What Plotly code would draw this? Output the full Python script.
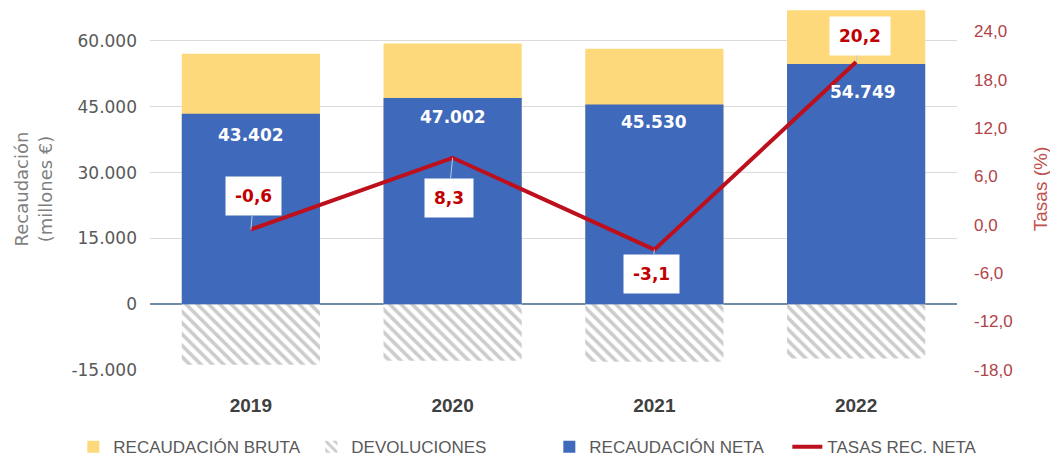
import plotly.graph_objects as go

years = ["2019", "2020", "2021", "2022"]
bruta = [57100, 59400, 58200, 67000]
neta = [43402, 47002, 45530, 54749]
devoluciones = [-13800, -12900, -13100, -12400]
tasas = [-0.6, 8.3, -3.1, 20.2]
tasa_labels = ["-0,6", "8,3", "-3,1", "20,2"]
neta_labels = ["43.402", "47.002", "45.530", "54.749"]
# label offsets (pixels)
label_ax = [3, -4, -3, 4]
label_ay = [-33, 40, 24, -26]
neta_yshift = [-21, -19, -18, -28]
neta_xshift = [0, 0, 0, 7]

left_ticks = [-15000, 0, 15000, 30000, 45000, 60000]
left_ticktext = ["-15.000", "0", "15.000", "30.000", "45.000", "60.000"]
right_ticks = [-18, -12, -6, 0, 6, 12, 18, 24]
right_ticktext = ["-18,0", "-12,0", "-6,0", "0,0", "6,0", "12,0", "18,0", "24,0"]

RED = "#C00000"
fig = go.Figure()
fig.add_trace(go.Bar(x=years, y=bruta, name="RECAUDACIÓN BRUTA",
                     marker=dict(color="#FDD97C", line=dict(width=0)), width=0.685))
fig.add_trace(go.Bar(x=years, y=devoluciones, name="DEVOLUCIONES",
                     marker=dict(color="white", line=dict(width=0),
                                 pattern=dict(shape="\\", fgcolor="#999999", bgcolor="white",
                                              size=8, solidity=0.45)), width=0.685))
fig.add_trace(go.Bar(x=years, y=neta, name="RECAUDACIÓN NETA",
                     marker=dict(color="#3F69BA", line=dict(width=0)), width=0.685))
fig.add_trace(go.Scatter(x=years, y=tasas, name="TASAS REC. NETA", yaxis="y2",
                         mode="lines", line=dict(color="#BE0F1C", width=4)))

for i in range(len(years)):
    fig.add_annotation(x=i, y=neta[i], xref="x", yref="y", text="<b>%s</b>" % neta_labels[i],
                       showarrow=False, yshift=neta_yshift[i], xshift=neta_xshift[i],
                       yanchor="middle",
                       font=dict(color="white", size=17, family="DejaVu Sans"))
for i in range(len(years)):
    fig.add_annotation(x=i, y=tasas[i], xref="x", yref="y2",
                       text="<b>%s</b>" % tasa_labels[i],
                       showarrow=True, arrowhead=0, arrowwidth=1, arrowcolor="#B7CBEA",
                       ax=label_ax[i], ay=label_ay[i], standoff=0,
                       bgcolor="white", borderpad=9,
                       font=dict(color=RED, size=17, family="DejaVu Sans"))

fig.update_layout(
    width=1050, height=453,
    margin=dict(l=142, r=101, t=0, b=91, autoexpand=False),
    paper_bgcolor="white", plot_bgcolor="white",
    barmode="overlay",
    showlegend=True,
    legend=dict(orientation="h", x=-0.095, xanchor="left", y=-0.213, yanchor="middle",
                font=dict(size=17, color="#595959", family="Liberation Sans, sans-serif"),
                entrywidth=193, entrywidthmode="pixels",
                tracegroupgap=0, bgcolor="rgba(0,0,0,0)"),
    xaxis=dict(type="category", range=[-0.5, len(years) - 0.5], showgrid=False, showline=False,
               automargin=False, ticks="", ticklabelstandoff=22,
               tickfont=dict(size=19, color="#404040", family="Liberation Sans, sans-serif"),
               tickprefix="<b>", ticksuffix="</b>"),
    yaxis=dict(range=[-15000, 67500], tickvals=left_ticks, ticktext=left_ticktext,
               automargin=False,
               showgrid=True, gridcolor="#DADADA", gridwidth=1,
               zeroline=True, zerolinecolor="#6E8CA5", zerolinewidth=1.5,
               tickfont=dict(size=17, color="#595959", family="DejaVu Sans"),
               ticklabelstandoff=12,
               title=dict(text="Recaudación<br>(millones €)", standoff=14,
                          font=dict(size=18, color="#7F7F7F", family="DejaVu Sans"))),
    yaxis2=dict(range=[-18.05, 26.9], tickvals=right_ticks, ticktext=right_ticktext,
                automargin=False,
                overlaying="y", side="right", showgrid=False, zeroline=False,
                tickfont=dict(size=17, color="#B04448", family="Liberation Sans, sans-serif"),
                ticklabelstandoff=16,
                title=dict(text="Tasas (%)", standoff=21,
                           font=dict(size=19, color="#C0504D", family="Liberation Sans, sans-serif"))),
)
fig.write_html("out.html")
